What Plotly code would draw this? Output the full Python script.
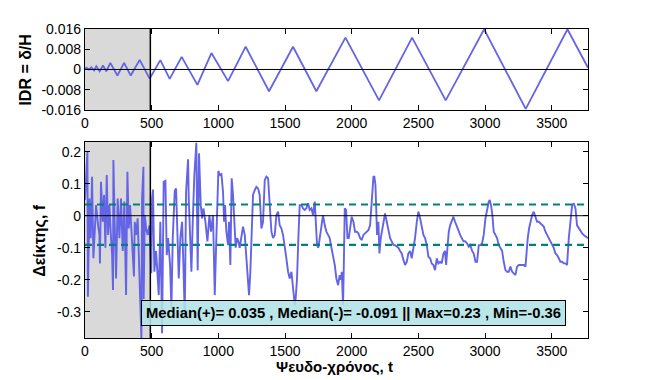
import plotly.graph_objects as go
from plotly.subplots import make_subplots

# ---- data ----
idr_t = [0, 10, 30, 48, 68, 85, 110, 135, 160, 190, 243, 293, 343, 410, 485, 565, 635, 725,
         843, 948, 1073, 1205, 1380, 1560, 1735, 1953, 2205, 2453, 2705, 2993, 3305, 3618, 3772]
idr_val = [0, 0.0007, 0, 0.0009, -0.0004, 0.0013, -0.0007, 0.0016, -0.0007, 0.0026, -0.0024,
           0.0026, -0.0024, 0.0038, -0.0036, 0.0037, -0.0037, 0.005, -0.0061, 0.0065, -0.0046,
           0.009, -0.0086, 0.009, -0.0086, 0.0126, -0.0122, 0.0126, -0.0122, 0.0159, -0.0156,
           0.0159, 0.0007]

f_t = [0, 8, 18, 22, 33, 43, 53, 63, 73, 83, 98, 108, 112, 120, 133, 143, 153, 163, 173, 183,
       195, 203, 210, 213, 223, 233, 245, 258, 270, 283, 295, 308, 318, 328, 338, 353, 363, 367,
       373, 383, 395, 408, 418, 423, 428, 438, 440, 448, 458, 470, 483, 497, 503, 510, 520, 533,
       538, 553, 565, 578, 590, 603, 613, 623, 638, 648, 658, 673, 683, 693, 703, 715, 728, 738,
       748, 758, 768, 773, 778, 788, 798, 808, 820, 835, 845, 855, 868, 878, 888, 903, 918, 933,
       945, 960, 973, 985, 1000, 1010, 1023, 1035, 1043, 1050, 1060, 1073, 1080, 1090, 1100, 1110,
       1120, 1130, 1140, 1150, 1160, 1173, 1185, 1198, 1210, 1223, 1230, 1240, 1250, 1260, 1273,
       1285, 1298, 1310, 1323, 1335, 1348, 1360, 1373, 1385, 1398, 1410, 1423, 1435, 1448, 1460,
       1473, 1485, 1498, 1510, 1523, 1535, 1548, 1560, 1573, 1580, 1590, 1600, 1610, 1623, 1635,
       1648, 1660, 1673, 1685, 1698, 1710, 1723, 1730, 1740, 1750, 1760, 1773, 1785, 1798, 1810,
       1823, 1835, 1848, 1860, 1873, 1885, 1898, 1910, 1920, 1926, 1935, 1940, 1948, 1958, 1968,
       1978, 1988, 2000, 2013, 2025, 2038, 2050, 2063, 2075, 2088, 2100, 2113, 2125, 2138, 2150,
       2158, 2163, 2170, 2178, 2183, 2190, 2200, 2208, 2218, 2233, 2250, 2263, 2275, 2288, 2300,
       2313, 2325, 2338, 2350, 2363, 2375, 2388, 2400, 2413, 2425, 2438, 2450, 2463, 2475, 2488,
       2500, 2508, 2518, 2528, 2538, 2550, 2563, 2575, 2588, 2600, 2613, 2625, 2638, 2650, 2663,
       2675, 2688, 2700, 2708, 2718, 2728, 2738, 2750, 2763, 2775, 2788, 2800, 2813, 2825, 2838,
       2850, 2865, 2878, 2890, 2903, 2915, 2928, 2940, 2953, 2965, 2978, 2990, 3003, 3015, 3028,
       3035, 3045, 3055, 3065, 3078, 3090, 3103, 3115, 3128, 3140, 3153, 3165, 3178, 3190, 3203,
       3215, 3228, 3240, 3253, 3265, 3278, 3290, 3303, 3310, 3320, 3330, 3340, 3353, 3365, 3378,
       3390, 3403, 3415, 3428, 3440, 3453, 3465, 3478, 3490, 3503, 3515, 3528, 3540, 3553, 3565,
       3578, 3590, 3603, 3615, 3628, 3640, 3653, 3665, 3678, 3690, 3703, 3715, 3728, 3740, 3753,
       3772]
f_val = [0.05, 0.117, 0.2, -0.253, 0.054, -0.07, 0.122, -0.133, -0.019, 0.033, -0.03, -0.06,
         -0.149, 0.106, -0.019, 0.065, -0.1, 0.127, -0.06, 0.033, -0.07, -0.12, -0.232, 0.174,
         -0.03, -0.196, 0.054, -0.07, 0.054, -0.11, 0.044, -0.248, 0.137, -0.04, 0.033, -0.09,
         -0.133, -0.19, -0.019, -0.06, -0.008, -0.154, -0.3, -0.383, 0.054, 0.153, -0.26, 0.002,
         -0.04, -0.06, -0.03, -0.18, 0.054, 0.082, -0.175, -0.11, -0.144, -0.248, -0.019, -0.367,
         0.106, 0.109, -0.123, -0.07, -0.154, -0.29, -0.07, 0.078, 0.085, -0.05, -0.196, -0.07,
         -0.019, -0.154, -0.315, 0.075, 0.17, 0.176, 0.054, -0.1, -0.175, -0.019, 0.127, 0.228,
         -0.17, 0.195, 0.033, -0.008, 0.023, -0.019, -0.08, 0.002, -0.05, 0.002, -0.248, -0.07,
         0.14, 0.127, 0.13, 0.075, -0.019, 0.033, -0.05, -0.092, -0.019, -0.154, 0.117, 0.065,
         -0.019, -0.1, -0.07, -0.08, -0.1, -0.07, -0.034, -0.06, -0.133, -0.227, -0.248, -0.175,
         -0.05, 0.065, 0.08, 0.09, 0.085, 0.065, -0.04, -0.019, 0.111, 0.122, 0.117, 0.044, -0.05,
         -0.07, -0.06, 0.002, 0.0125, -0.03, -0.04, -0.06, -0.092, -0.133, -0.175, -0.196, -0.175,
         -0.217, -0.279, -0.258, -0.196, -0.07, 0.033, 0.033, 0.023, 0.018, 0.023, 0.039, 0.018,
         0.023, 0.002, 0.044, -0.008, -0.092, -0.1, -0.07, -0.019, 0.002, -0.03, -0.05, -0.06,
         -0.07, -0.1, -0.123, -0.154, -0.196, -0.217, -0.186, -0.2, -0.175, -0.28, -0.175, 0.023,
         0.018, -0.07, -0.07, -0.04, -0.003, -0.019, -0.05, -0.05, -0.055, -0.07, -0.076, -0.06,
         -0.055, -0.05, -0.045, -0.03, 0.044, 0.085, 0.122, 0.122, 0.096, 0.033, -0.06, -0.019,
         -0.118, -0.07, -0.03, 0.007, -0.019, -0.04, -0.07, -0.08, -0.092, -0.092, -0.097, -0.1,
         -0.11, -0.118, -0.138, -0.154, -0.144, -0.118, -0.11, -0.133, -0.1, -0.07, -0.019, 0.0125,
         0.002, -0.019, -0.04, -0.06, -0.07, -0.092, -0.128, -0.133, -0.149, -0.154, -0.17, -0.133,
         -0.149, -0.144, -0.149, -0.118, -0.11, -0.154, -0.1, -0.05, -0.03, -0.014, -0.003, -0.019,
         -0.03, -0.045, -0.06, -0.07, -0.08, -0.08, -0.086, -0.097, -0.092, -0.11, -0.118, -0.144,
         -0.144, -0.092, -0.092, -0.086, -0.06, -0.008, 0.023, 0.044, 0.049, 0.033, 0.002, -0.05,
         -0.06, -0.07, -0.092, -0.1, -0.11, -0.144, -0.17, -0.175, -0.175, -0.159, -0.175, -0.18,
         -0.185, -0.159, -0.154, -0.154, -0.154, -0.154, -0.159, -0.112, -0.07, -0.04, -0.019,
         0.002, 0.0125, -0.008, -0.019, -0.019, -0.024, -0.03, -0.034, -0.05, -0.06, -0.07, -0.08,
         -0.092, -0.1, -0.118, -0.123, -0.133, -0.144, -0.144, -0.149, -0.149, -0.154, -0.07,
         -0.008, 0.033, 0.039, 0.023, -0.03, -0.04, -0.045, -0.055, -0.06, -0.065, -0.07]

median_pos = 0.035
median_neg = -0.091
f_max = 0.23
f_min = -0.36
warmup_end = 490
t_max = 3772

x_ticks = [0, 500, 1000, 1500, 2000, 2500, 3000, 3500]
idr_ticks = [-0.016, -0.008, 0, 0.008, 0.016]
idr_ticktext = ["-0.016", "-0.008", "0", "0.008", "0.016"]
f_ticks = [-0.3, -0.2, -0.1, 0, 0.1, 0.2]
f_ticktext = ["-0.3", "-0.2", "-0.1", "0", "0.1", "0.2"]

FONT = "Liberation Sans, Arial, sans-serif"
BLUE = "rgb(100,100,230)"
TEAL = "rgb(0,128,128)"

fig = make_subplots(rows=2, cols=1, shared_xaxes=False, vertical_spacing=0.0)

fig.add_trace(go.Scatter(x=idr_t, y=idr_val, mode="lines",
                         line=dict(color=BLUE, width=1.8), showlegend=False), row=1, col=1)
fig.add_trace(go.Scatter(x=f_t, y=f_val, mode="lines",
                         line=dict(color=BLUE, width=1.9), showlegend=False), row=2, col=1)

# median dashed lines
for m in (median_pos, median_neg):
    fig.add_trace(go.Scatter(x=[0, t_max], y=[m, m], mode="lines",
                             line=dict(color=TEAL, width=2.2, dash="7px,5px"),
                             showlegend=False), row=2, col=1)

shapes = []
for xr, yr in (("x", "y"), ("x2", "y2")):
    shapes.append(dict(type="rect", xref=xr, yref=yr + " domain", x0=0, x1=warmup_end,
                       y0=0, y1=1, fillcolor="rgb(217,217,217)", line=dict(width=0),
                       layer="below"))
    shapes.append(dict(type="line", xref=xr, yref=yr + " domain", x0=warmup_end, x1=warmup_end,
                       y0=0, y1=1, line=dict(color="black", width=1.5), layer="above"))
    shapes.append(dict(type="line", xref=xr + " domain", yref=yr, x0=0, x1=1, y0=0, y1=0,
                       line=dict(color="black", width=1), layer="above"))

axis_common = dict(showline=True, linecolor="black", linewidth=1.2, mirror="ticks",
                   ticks="inside", ticklen=5, tickcolor="black", showgrid=False,
                   zeroline=False, automargin=False,
                   tickfont=dict(family=FONT, size=14, color="black"))

fig.update_layout(
    width=650, height=380,
    paper_bgcolor="white", plot_bgcolor="white",
    margin=dict(l=85, r=62, t=29, b=42, autoexpand=False),
    shapes=shapes,
    font=dict(family=FONT, color="black"),
    xaxis=dict(domain=[0, 1], range=[0, t_max], tickvals=x_ticks, anchor="y", **axis_common),
    yaxis=dict(domain=[0.738, 1.0], range=[-0.016, 0.016], tickvals=idr_ticks,
               ticktext=idr_ticktext, anchor="x", **axis_common),
    xaxis2=dict(domain=[0, 1], range=[0, t_max], tickvals=x_ticks, anchor="y2", **axis_common),
    yaxis2=dict(domain=[0.0, 0.634], range=[-0.382, 0.23], tickvals=f_ticks,
                ticktext=f_ticktext, anchor="x2", **axis_common),
)

annotations = [
    dict(text="<b>Median(+)= %.3f , Median(-)= %.3f || Max=%.2f , Min=%.2f</b>"
              % (median_pos, median_neg, f_max, f_min),
         xref="x2", yref="y2", x=2010, y=-0.304, xanchor="center", yanchor="middle",
         showarrow=False, font=dict(family=FONT, size=14.8, color="black"),
         bgcolor="rgba(176,226,230,0.88)", bordercolor="black", borderwidth=1, borderpad=4),
    dict(text="<b>IDR = δ/H</b>", xref="paper", yref="paper", x=-0.119, y=0.869,
         xanchor="center", yanchor="middle", textangle=-90, showarrow=False,
         font=dict(family=FONT, size=16, color="black")),
    dict(text="<b>Δείκτης, f</b>", xref="paper", yref="paper", x=-0.09, y=0.317,
         xanchor="center", yanchor="middle", textangle=-90, showarrow=False,
         font=dict(family=FONT, size=16, color="black")),
    dict(text="<b>Ψευδο-χρόνος, t</b>", xref="paper", yref="paper", x=0.497, y=-0.092,
         xanchor="center", yanchor="middle", showarrow=False,
         font=dict(family=FONT, size=15, color="black")),
]
fig.update_layout(annotations=annotations)

fig.write_html("out.html", config={"displayModeBar": False},
               post_script="document.body.style.margin='0px';document.body.style.overflow='hidden';")
